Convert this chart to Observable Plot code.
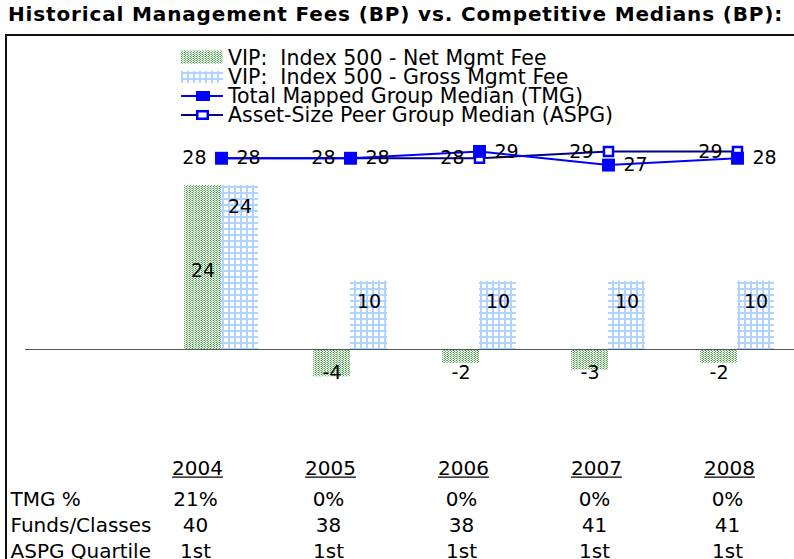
<!DOCTYPE html>
<html>
<head>
<meta charset="utf-8">
<script src="https://cdn.jsdelivr.net/npm/d3@7"></script>
<script src="https://cdn.jsdelivr.net/npm/@observablehq/plot@0.6"></script>
<style>
  html, body { margin: 0; padding: 0; background: #fff; }
  body { width: 794px; height: 559px; overflow: hidden; position: relative; font-family: "DejaVu Sans", Verdana, sans-serif; }
  #box { position: absolute; left: 5px; top: 34px; width: 820px; height: 600px; border-top: 2px solid #111; border-left: 2px solid #111; }
  #title { position: absolute; left: 8px; top: 4px; font: bold 20px/20px "DejaVu Sans", sans-serif; letter-spacing: 0.85px; color: #000; white-space: nowrap; }
  #chart, #table, #legend { position: absolute; left: 0; }
  #chart { top: 0; }
  #table { top: 430px; }
  #legend { top: 0; }
</style>
</head>
<body>
<div id="box"></div>
<div id="title">Historical Management Fees (BP) vs. Competitive Medians (BP):</div>
<div id="chart"></div>
<svg id="legend" width="794" height="140"></svg>
<div id="table"></div>
<script>
// ---- data ----
const years = ["2004", "2005", "2006", "2007", "2008"];
const netFee = [24, -4, -2, -3, -2];
const grossFee = [24, 10, 10, 10, 10];
const tmgMedian = [28, 28, 29, 27, 28];
const aspgMedian = [28, 28, 28, 29, 29];
const seriesNames = [
  "VIP:  Index 500 - Net Mgmt Fee",
  "VIP:  Index 500 - Gross Mgmt Fee",
  "Total Mapped Group Median (TMG)",
  "Asset-Size Peer Group Median (ASPG)"
];
const rowLabels = ["TMG %", "Funds/Classes", "ASPG Quartile"];
const tmgPct = ["21%", "0%", "0%", "0%", "0%"];
const fundsClasses = ["40", "38", "38", "41", "41"];
const aspgQuartile = ["1st", "1st", "1st", "1st", "1st"];

// ---- colors ----
const tmgColor = "#0000ff";
const aspgColor = "#000080";

const rows = years.map((y, i) => ({year: y, net: netFee[i], gross: grossFee[i], tmg: tmgMedian[i], aspg: aspgMedian[i]}));

const labelFont = 19;
const chart = Plot.plot({
  width: 794, height: 430,
  marginLeft: 25, marginRight: 0, marginTop: 0, marginBottom: 0,
  style: {background: "transparent", fontFamily: "'DejaVu Sans', Verdana, sans-serif", fontSize: labelFont + "px", color: "#000", overflow: "visible"},
  x: {type: "band", domain: years, range: [183, 774.6], paddingInner: 0.428, paddingOuter: 0, axis: null},
  y: {domain: [-10, 40], range: [417.3, 75.8], axis: null},
  marks: [
    Plot.barY(rows, {x: "year", y: "net", fill: "url(#netPat)", insetRight: 37}),
    Plot.barY(rows, {x: "year", y: "gross", fill: "url(#grossPat)", insetLeft: 37}),
    Plot.ruleY([0], {stroke: "#555", strokeWidth: 1}),
    Plot.line(rows, {x: "year", y: "aspg", stroke: aspgColor, strokeWidth: 2}),
    Plot.line(rows, {x: "year", y: "tmg", stroke: tmgColor, strokeWidth: 2}),
    Plot.dot(rows, {x: "year", y: "aspg", symbol: "square", r: 5.1, fill: "#fff", stroke: tmgColor, strokeWidth: 2.5}),
    Plot.dot(rows, {x: "year", y: "tmg", symbol: "square", r: 7.3, fill: tmgColor, stroke: "none"}),
    // line labels
    Plot.text(rows, {x: "year", y: "aspg", text: d => String(d.aspg), textAnchor: "end", dx: -15, fill: "#000"}),
    Plot.text(rows, {x: "year", y: "tmg", text: d => String(d.tmg), textAnchor: "start", dx: 15, fill: "#000"}),
    // bar labels
    Plot.text(rows, {x: "year", y: "gross", text: d => String(d.gross), dx: 18.5, dy: 21, fill: "#000"}),
    Plot.text(rows.filter(d => d.net > 0), {x: "year", y: d => d.net / 2, text: d => String(d.net), dx: -18.5, dy: 3, fill: "#000"}),
    Plot.text(rows.filter(d => d.net < 0), {x: "year", y: () => 0, text: d => String(d.net), dx: -18.5, dy: 23, fill: "#000"})
  ]
});
document.getElementById("chart").appendChild(chart);

// patterns
const defs = d3.select(chart).insert("defs", ":first-child");
const np = defs.append("pattern").attr("id", "netPat").attr("patternUnits", "userSpaceOnUse").attr("width", 3).attr("height", 2);
np.append("rect").attr("width", 3).attr("height", 2).attr("fill", "#ffffff");
[[0,0,"#3d9a3d"],[1,1,"#5cae5c"],[2,0,"#a8d8a8"]].forEach(([x,y,c]) =>
  np.append("rect").attr("x", x).attr("y", y).attr("width", 1).attr("height", 1).attr("fill", c));
const gp = defs.append("pattern").attr("id", "grossPat").attr("patternUnits", "userSpaceOnUse").attr("width", 6).attr("height", 6);
gp.append("rect").attr("width", 6).attr("height", 6).attr("fill", "#ffffff");
gp.append("rect").attr("width", 6).attr("height", 2).attr("fill", "#b0d4ff");
gp.append("rect").attr("width", 2).attr("height", 6).attr("fill", "#b0d4ff");

// ---- legend ----
const lg = d3.select("#legend").append("g").attr("transform", "translate(181,0)")
  .style("font-family", "'DejaVu Sans', Verdana, sans-serif").style("font-size", "20.5px");
const rowCenters = [57.5, 77, 96, 115];
seriesNames.forEach((name, i) => {
  const cy = rowCenters[i];
  if (i === 0) lg.append("rect").attr("x", 0).attr("y", cy - 7).attr("width", 42).attr("height", 13).attr("fill", "url(#netPat)");
  if (i === 1) lg.append("rect").attr("x", 0).attr("y", cy - 6).attr("width", 42).attr("height", 12).attr("fill", "url(#grossPat)");
  if (i === 2) {
    lg.append("line").attr("x1", 0).attr("x2", 42).attr("y1", cy).attr("y2", cy).attr("stroke", tmgColor).attr("stroke-width", 2);
    lg.append("rect").attr("x", 15).attr("y", cy - 5).attr("width", 14).attr("height", 10).attr("fill", tmgColor);
  }
  if (i === 3) {
    lg.append("line").attr("x1", 0).attr("x2", 42).attr("y1", cy).attr("y2", cy).attr("stroke", aspgColor).attr("stroke-width", 2);
    lg.append("rect").attr("x", 16.25).attr("y", cy - 3.75).attr("width", 10.5).attr("height", 7.5).attr("fill", "#fff").attr("stroke", tmgColor).attr("stroke-width", 2.5);
  }
  lg.append("text").attr("x", 47).attr("y", cy + 7.4).attr("fill", "#000").attr("xml:space", "preserve").style("white-space", "pre").text(name);
});

// ---- table ----
const cells = [];
years.forEach((y, i) => {
  cells.push({year: y, row: rowLabels[0], value: tmgPct[i]});
  cells.push({year: y, row: rowLabels[1], value: fundsClasses[i]});
  cells.push({year: y, row: rowLabels[2], value: aspgQuartile[i]});
});
const table = Plot.plot({
  width: 794, height: 129,
  marginLeft: 0, marginRight: 0, marginTop: 0, marginBottom: 0,
  style: {background: "transparent", fontFamily: "'DejaVu Sans', Verdana, sans-serif", fontSize: "20px", color: "#000", overflow: "visible"},
  x: {type: "point", domain: years, range: [196, 729], padding: 0, axis: null},
  y: {type: "point", domain: rowLabels, range: [69, 121], padding: 0, axis: null},
  marks: [
    Plot.text(years, {x: d => d, frameAnchor: "top", dy: 30, text: d => d, fill: "#000", ariaLabel: "year-header"}),
    Plot.text(rowLabels, {y: d => d, frameAnchor: "left", textAnchor: "start", dx: 10, text: d => d, fill: "#000"}),
    Plot.text(cells, {x: "year", y: "row", text: "value", fill: "#000", dx: -2})
  ]
});
document.getElementById("table").appendChild(table);
// underline the year headers
const headerTexts = d3.select(table).selectAll("text").filter(function() {
  return years.includes(this.textContent) && this.getBBox().y < 45;
});
headerTexts.each(function() {
  const b = this.getBBox();
  const m = this.getCTM ? null : null;
  const tr = this.getAttribute("transform") || "";
  d3.select(this.parentNode).append("line")
    .attr("transform", tr)
    .attr("x1", b.x).attr("x2", b.x + b.width)
    .attr("y1", b.y + b.height - 2.5).attr("y2", b.y + b.height - 2.5)
    .attr("stroke", "#000").attr("stroke-width", 1.3);
});
</script>
</body>
</html>
